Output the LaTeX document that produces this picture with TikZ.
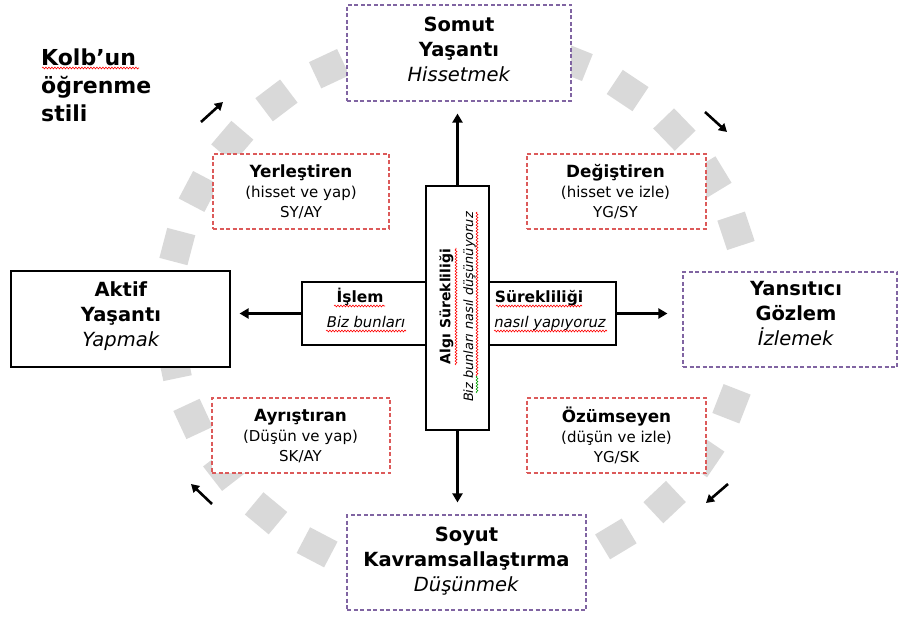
\documentclass[tikz,border=0pt]{standalone}
\usepackage{fontspec}
\setmainfont{DejaVu Sans}
\usetikzlibrary{arrows.meta,decorations.pathmorphing}
\definecolor{ringgray}{RGB}{217,217,217}
\definecolor{boxpurple}{RGB}{128,100,162}
\definecolor{boxred}{RGB}{220,90,90}
\definecolor{spellred}{RGB}{255,0,0}
\definecolor{spellgreen}{RGB}{0,160,0}
\begin{document}
\begin{tikzpicture}[x=1pt,y=-1pt,
  purplebox/.style={draw=boxpurple, line width=1.2pt, dash pattern=on 4pt off 2.5pt, fill=white, inner sep=0pt},
  redbox/.style={draw=boxred, line width=1.2pt, dash pattern=on 4pt off 2.5pt, fill=white, inner sep=0pt},
  solidbox/.style={draw=black, line width=1.2pt, fill=white, inner sep=0pt},
  bigtxt/.style={align=center, font=\fontsize{19.5}{25}\selectfont, inner sep=0pt},
  smalltxt/.style={align=center, font=\fontsize{15}{20}\selectfont, inner sep=0pt},
  midbold/.style={font=\fontsize{15.5}{18}\selectfont\bfseries, inner sep=0pt},
  midital/.style={font=\fontsize{14.8}{18}\selectfont\itshape, inner sep=0pt},
  arr/.style={line width=2.5pt, -{Triangle[length=9pt,width=10pt]}},
  sarr/.style={line width=2.6pt, -{Triangle[length=8pt,width=9pt]}},
  spell/.style={decorate, decoration={snake, segment length=3pt, amplitude=0.9pt}, line width=0.6pt, draw=spellred},
]
\useasboundingbox (0,0) rectangle (899,617);

% dashed ring
\foreach \k in {0,...,28}{
  \pgfmathsetmacro\t{116.6+12.41*\k}
  \pgfmathsetmacro\px{459+290*cos(\t)}
  \pgfmathsetmacro\py{311-271*sin(\t)}
  \pgfmathsetmacro\ang{atan2(271*cos(\t),-290*sin(\t))}
  \fill[ringgray, rotate around={\ang:(\px,\py)}] (\px-15.5,\py-14.5) rectangle (\px+15.5,\py+14.5);
}

% title
\node[anchor=north west, align=left, font=\fontsize{22}{28}\selectfont\bfseries, inner sep=0pt] (title) at (41,48.3) {Kolb’un\\öğrenme\\stili};

% main boxes
\node[purplebox, minimum width=224, minimum height=96] (somut) at (459,53) {};
\node[bigtxt] (somuttxt) at (459,49.9) {\textbf{Somut}\\\textbf{Yaşantı}\\\textit{Hissetmek}};

\node[solidbox, minimum width=219, minimum height=96] (aktif) at (120.5,319) {};
\node[bigtxt] (aktiftxt) at (121,316) {\textbf{Aktif}\\\textbf{Yaşantı}\\\textit{Yapmak}};

\node[purplebox, minimum width=214, minimum height=95] (yans) at (790,319.5) {};
\node[bigtxt] (yanstxt) at (796,314) {\textbf{Yansıtıcı}\\\textbf{Gözlem}\\\textit{İzlemek}};

\node[purplebox, minimum width=239, minimum height=95] (soyut) at (466.5,562.5) {};
\node[bigtxt] (soyuttxt) at (466.5,561) {\textbf{Soyut}\\\textbf{Kavramsallaştırma}\\\textit{Düşünmek}};

% style boxes
\node[redbox, minimum width=176, minimum height=75] (yer) at (301,191.5) {};
\node[smalltxt] (yertxt) at (301,191.8) {{\fontsize{16.8}{20}\selectfont\bfseries Yerleştiren}\\(hisset ve yap)\\SY/AY};

\node[redbox, minimum width=179, minimum height=75] (deg) at (616.5,191.5) {};
\node[smalltxt] (degtxt) at (615.5,191.8) {{\fontsize{16.8}{20}\selectfont\bfseries Değiştiren}\\(hisset ve izle)\\YG/SY};

\node[redbox, minimum width=178, minimum height=75] (ayr) at (301,435.5) {};
\node[smalltxt] (ayrtxt) at (300.5,435.9) {{\fontsize{16.8}{20}\selectfont\bfseries Ayrıştıran}\\(Düşün ve yap)\\SK/AY};

\node[redbox, minimum width=179, minimum height=75] (ozu) at (616.5,435.5) {};
\node[smalltxt] (ozutxt) at (616.5,435.9) {{\fontsize{16.8}{20}\selectfont\bfseries Özümseyen}\\(düşün ve izle)\\YG/SK};

% centre cross
\node[solidbox, minimum width=314, minimum height=63] (hbox) at (459,313.5) {};
\node[solidbox, minimum width=63, minimum height=244] (vbox) at (457.5,308) {};

\node[midbold, anchor=base] (islem) at (360,303) {İşlem};
\node[midital, anchor=base] (bizb) at (366,328) {Biz bunları};
\node[midbold, anchor=base] (surek) at (539,303) {Sürekliliği};
\node[midital, anchor=base] (nasil) at (550,328) {nasıl yapıyoruz};
\node[rotate=90, font=\fontsize{14}{16}\selectfont\bfseries, inner sep=0pt] (algi) at (446.5,306.5) {Algı Sürekliliği};
\node[rotate=90, font=\fontsize{12.9}{15}\selectfont\itshape, inner sep=0pt] (dusun) at (469.5,307) {Biz bunları nasıl düşünüyoruz};

% spelling marks
\draw[spell] (42,68) -- (139,68);
\draw[spell] (334,306) -- (385,306);
\draw[spell] (326,331) -- (406,331);
\draw[spell] (496,306) -- (582,306);
\draw[spell] (494,331) -- (607,331);
\draw[spell] (456,365) -- (456,248);
\draw[spell] (477,376) -- (477,212);
\draw[spell, draw=spellgreen] (477,393) -- (477,376);

% main arrows
\draw[arr, shorten >=12pt] (vbox.north) -- (vbox.north |- somut.south);
\draw[arr, shorten >=12pt] (vbox.south) -- (vbox.south |- soyut.north);
\draw[arr, shorten >=9pt] (hbox.west) -- (hbox.west -| aktif.east);
\draw[arr, shorten >=15pt] (hbox.east) -- (hbox.east -| yans.west);

% cycle arrows
\coordinate (tla) at (201,122); \coordinate (tlb) at (223,102);
\coordinate (tra) at (705,112); \coordinate (trb) at (727,132);
\coordinate (bra) at (728,484); \coordinate (brb) at (706,503);
\coordinate (bla) at (212,504); \coordinate (blb) at (191,484);
\draw[sarr] (tla) -- (tlb);
\draw[sarr] (tra) -- (trb);
\draw[sarr] (bra) -- (brb);
\draw[sarr] (bla) -- (blb);
\end{tikzpicture}
\end{document}
